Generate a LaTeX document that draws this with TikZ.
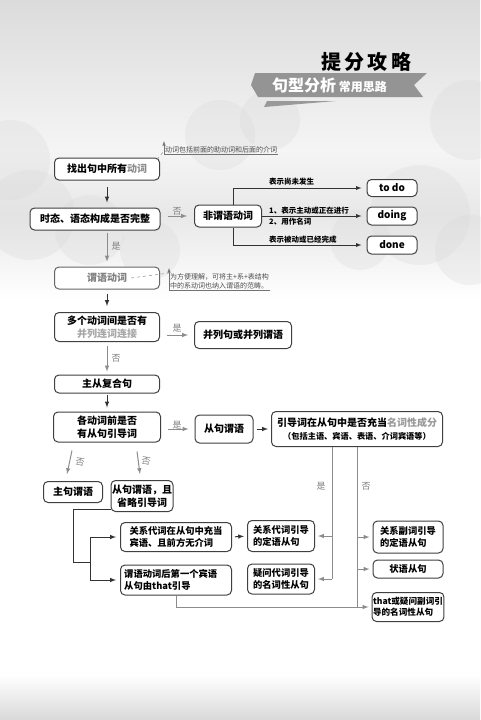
\documentclass[tikz,border=0pt]{standalone}
\usepackage{fontspec}
\setmainfont{Noto Sans CJK SC}
\begin{document}
\begin{tikzpicture}[x=1pt, y=-1pt, >=latex,
    box/.style={draw=black!75, line width=1pt, rounded corners=4.5pt, fill=white, align=center, inner sep=1pt,
      font=\bfseries\fontsize{10}{12.5}\selectfont},
    lowbox/.style={box, align=left, font=\bfseries\fontsize{9.3}{11.5}\selectfont},
    fork/.style={draw=black!45, line width=1pt},
    tag/.style={text=black!50, font=\fontsize{9}{9}\selectfont},
    branch/.style={anchor=west, inner sep=0pt, font=\bfseries\fontsize{7.5}{8}\selectfont},
    note/.style={anchor=south west, align=left, inner sep=1pt, text=black!70, font=\fontsize{7}{8.8}\selectfont}]
    \useasboundingbox (0,0) rectangle (480,720);

    % 1. 背景：上方灰色云层，下方浅灰地带
    \fill[white] (0,0) rectangle (480,720);
    \fill[top color=black!14, bottom color=black!4] (0,0) rectangle (480,150);
    \fill[top color=black!4, bottom color=black!9] (0,150) rectangle (480,215);
    \fill[top color=black!9, bottom color=white] (0,215) rectangle (480,300);
    \foreach \cx/\cy/\r in {30/215/45, 90/230/35, 10/160/40, 150/250/30, 420/215/50, 470/250/35, 360/240/30, 220/135/35, 270/120/30, 470/120/40}
        \fill[black!15, opacity=0.3] (\cx,\cy) circle (\r);
    \fill[top color=white, bottom color=black!15] (0,675) rectangle (480,720);

    % 2. 标题与灰色飘带
    \node[font=\bfseries\fontsize{20}{20}\selectfont] (title) at (366,62) {提\,分\,攻\,略};
    \fill[black!42] (255,73) -- (427,73) -- (414,85) -- (423,97) -- (258,97) -- (251,85) -- cycle;
    \node[anchor=west, inner sep=0pt, text=white, font=\bfseries\fontsize{16}{16}\selectfont] (banner) at (272,85)
        {句型分析\,{\fontsize{12}{12}\selectfont 常用思路}};
    \fill[black!40] (267,101) -- (336,101) -- (264,107) -- cycle;

    % 3. 主干流程
    \node[box, minimum width=105, minimum height=22] (zhao) at (107,169) {找出句中所有\textcolor{black!45}{动词}};
    \node[box, minimum width=130, minimum height=22] (shitai) at (95,219) {时态、语态构成是否完整};
    \node[box, minimum width=105, minimum height=22, draw=black!60, text=black!50] (weiyu) at (107,278) {谓语动词};
    \node[box, minimum width=105, minimum height=29] (duoge) at (107,327) {多个动词间是否有\\\textcolor{black!35}{并列连词连接}};
    \node[box, minimum width=97, minimum height=27] (binglie) at (243,335) {并列句或并列谓语};
    \node[box, minimum width=105, minimum height=18] (zhucong) at (107,384) {主从复合句};
    \node[box, minimum width=107, minimum height=30] (gedong) at (107,427) {各动词前是否\\有从句引导词};

    \draw[->, black!80, line width=1pt, shorten <=6pt, shorten >=5pt] (zhao.south) -- (zhao.south |- shitai.north);
    \draw[->, fork, shorten <=2pt, shorten >=5pt] (weiyu.north |- shitai.south) -- (weiyu.north);
    \node[tag] at (116,246) {是};
    \draw[->, black!80, line width=1pt, shorten <=4pt, shorten >=6pt] (weiyu.south) -- (duoge.north);
    \draw[->, fork, shorten <=7pt, shorten >=6pt] (binglie.west -| duoge.east) -- (binglie.west);
    \node[tag] at (177,328) {是};
    \draw[->, fork, shorten <=4pt, shorten >=3pt] (duoge.south) -- (zhucong.north);
    \node[tag] at (116,358) {否};
    \draw[->, black!80, line width=1pt, shorten <=1pt, shorten >=4pt] (zhucong.south) -- (gedong.north);

    % 4. 注释
    \node[note] (note1) at (164,154) {动词包括前面的助动词和后面的介词};
    \draw[black!55, line width=0.6pt] (note1.south west) -- (note1.south east);
    \draw[->, black!55, line width=0.6pt] (note1.south west) -- ++(0,-13);
    \draw[dashed, black!45, line width=0.5pt] ([xshift=-3pt,yshift=-2pt]zhao.north east) -- ([yshift=3pt]note1.south west);
    \node[note] (note2) at (169,290) {为方便理解，可将主+系+表结构\\中的系动词也纳入谓语的范畴。};
    \draw[black!55, line width=0.6pt] (note2.south west) -- (note2.south east);
    \draw[->, black!55, line width=0.6pt] (note2.south west) -- ++(0,-22);
    \draw[dashed, black!45, line width=0.5pt] ([xshift=24pt]weiyu.center) -- ([yshift=17pt]note2.south west);

    % 5. 非谓语动词的三种形式
    \node[box, minimum width=67, minimum height=22] (feiwei) at (228,216) {非谓语动词};
    \node[box, minimum width=50, minimum height=17] (todo) at (392,188) {to do};
    \node[box, minimum width=50, minimum height=18] (doing) at (392,216) {doing};
    \node[box, minimum width=50, minimum height=18] (done) at (392,245) {done};
    \draw[->, fork, shorten <=7pt, shorten >=7pt] (shitai.east |- feiwei.west) -- (feiwei.west);
    \node[tag] at (177,211) {否};
    \draw[->, black!80, line width=0.9pt, shorten >=5pt] ([xshift=5pt]feiwei.north) |- (todo.west);
    \draw[->, black!80, line width=0.9pt, shorten >=5pt] (feiwei.east) -- (doing.west);
    \draw[->, black!80, line width=0.9pt, shorten >=5pt] ([xshift=5pt]feiwei.south) |- (done.west);
    \node[branch] at (269,182) {表示尚未发生};
    \node[branch] at (269,210.5) {1、表示主动或正在进行};
    \node[branch] at (269,222) {2、用作名词};
    \node[branch] at (269,239.5) {表示被动或已经完成};

    % 6. 从句部分
    \node[box, minimum width=58, minimum height=28] (congju) at (224,429) {从句谓语};
    \node[box, minimum width=171, minimum height=35] (yindao) at (357,429)
        {引导词在从句中是否充当\textcolor{black!40}{名词性成分}\\{\fontsize{8.2}{10}\selectfont（包括主语、宾语、表语、介词宾语等）}};
    \node[box, minimum width=59, minimum height=21] (zhuju) at (73,492) {主句谓语};
    \node[box, minimum width=61, minimum height=31] (shenglue) at (142,496) {从句谓语，且\\省略引导词};
    \draw[->, fork, shorten <=7pt, shorten >=6pt] (congju.west -| gedong.east) -- (congju.west);
    \node[tag] at (177,425) {是};
    \draw[->, black!80, line width=1pt, shorten <=3pt, shorten >=3pt] (congju.east) -- (yindao.west);
    \draw[->, fork] ([xshift=-35pt,yshift=-8pt]gedong.south) -- ([xshift=-6pt,yshift=7pt]zhuju.north);
    \node[tag, rotate=-10] at (80,462) {否};
    \draw[->, fork] ([xshift=30pt,yshift=-9pt]gedong.south) -- ([xshift=-2pt,yshift=6pt]shenglue.north);
    \node[tag, rotate=-10] at (146,461) {否};

    % 7. 省略引导词的两种情况
    \node[lowbox, minimum width=111, minimum height=29] (guanxi) at (176,537) {关系代词在从句中充当\\宾语、且前方无介词};
    \node[lowbox, minimum width=111, minimum height=30] (weiyudong) at (176,580) {谓语动词后第一个宾语\\从句由that引导\hphantom{一个宾语}};
    \node[lowbox, minimum width=67, minimum height=31] (dingyu) at (281,536) {关系代词引导\\的定语从句};
    \node[lowbox, minimum width=67, minimum height=30] (yiwen) at (281,579) {疑问代词引导\\的名词性从句};
    \coordinate (zhe) at (73,562);
    \coordinate (fork) at (90,562);
    \draw[black!80, line width=1pt] ([yshift=-13pt]shenglue.west) -| (zhe) -- (fork);
    \draw[->, black!80, line width=1pt, shorten >=4pt] (fork) |- (guanxi.west);
    \draw[->, black!80, line width=1pt, shorten >=4pt] (fork) |- (weiyudong.west);
    \draw[->, black!80, line width=1pt, shorten <=3pt, shorten >=3pt] (guanxi.east) -- (dingyu.west);

    % 8. 是否充当名词性成分的两支
    \node[lowbox, minimum width=70, minimum height=32] (fuci) at (408,537) {关系副词引导\\的定语从句};
    \node[box, minimum width=70, minimum height=18, font=\bfseries\fontsize{9.3}{11.5}\selectfont] (zhuangyu) at (408,569) {状语从句};
    \node[lowbox, minimum width=70, minimum height=29, font=\bfseries\fontsize{8.6}{11}\selectfont] (that) at (408,607)
        {that或疑问副词引\\导的名词性从句};
    \coordinate (shi) at (332,579);
    \coordinate (fou) at (357,607);
    \draw[fork] ([xshift=-25pt]yindao.south) -- (shi);
    \draw[->, fork, shorten >=3pt] (dingyu.east -| shi) -- (dingyu.east);
    \draw[->, fork, shorten >=3pt] (shi) -- (yiwen.east);
    \node[tag] at (321,486) {是};
    \draw[fork] (yindao.south) -- (fou);
    \draw[->, fork, shorten >=3pt] (fuci.west -| fou) -- (fuci.west);
    \draw[->, fork, shorten >=3pt] (zhuangyu.west -| fou) -- (zhuangyu.west);
    \draw[->, fork, shorten >=3pt] (fou) -- (that.west);
    \node[tag] at (366,486) {否};
    \draw[fork] (weiyudong.south) |- (fou);

\end{tikzpicture}
\end{document}
